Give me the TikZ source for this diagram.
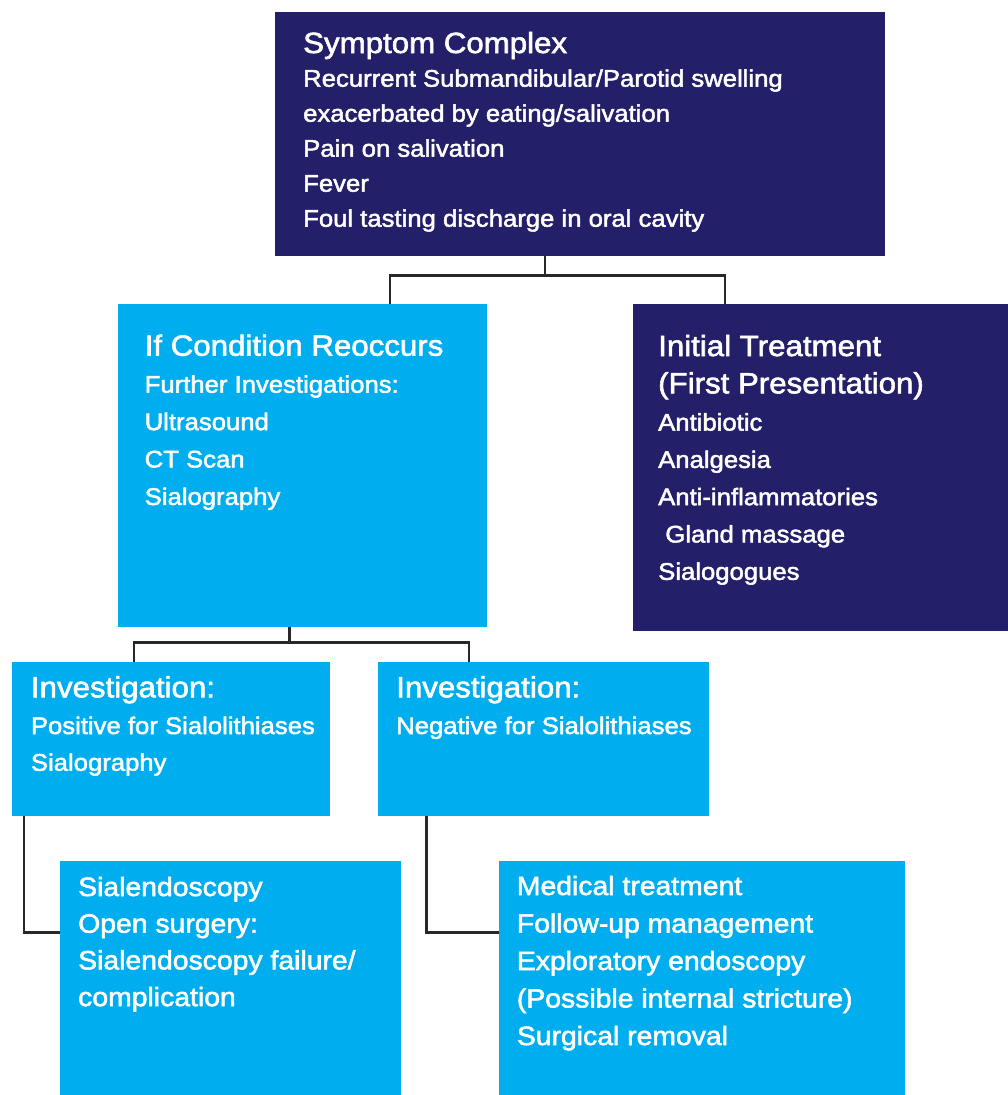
\documentclass[tikz,border=0pt]{standalone}
\usepackage{fontspec}
\newfontfamily\diagfont{Liberation Sans}[FakeStretch=1.07,FakeBold=2]
\usetikzlibrary{positioning}
\definecolor{navyblue}{RGB}{35,31,104}
\definecolor{skyblue}{RGB}{0,174,239}
\definecolor{linkgray}{RGB}{40,40,40}
\newcommand\txtsize[2]{\fontsize{#1}{#2}\selectfont}

\begin{document}
\begin{tikzpicture}[x=1pt,y=-1pt,
    darkbox/.style={fill=navyblue,inner sep=0pt,anchor=north west},
    lightbox/.style={fill=skyblue,inner sep=0pt,anchor=north west},
    boxtext/.style={anchor=base west,inner sep=0pt,align=left,text=white},
    link/.style={draw=linkgray,line width=2.4pt}
]
\useasboundingbox (0,0) rectangle (1008,1095);
\node[darkbox,minimum width=610pt,minimum height=243.5pt] (symp) at (275,12) {};
\node[lightbox,minimum width=369pt,minimum height=322.5pt] (reoc) at (118,304) {};
\node[darkbox,minimum width=375pt,minimum height=327pt] (init) at (633,304) {};
\node[lightbox,minimum width=318pt,minimum height=153.5pt] (pos) at (12,662) {};
\node[lightbox,minimum width=331pt,minimum height=153.5pt] (neg) at (378,662) {};
\node[lightbox,minimum width=341pt,minimum height=234pt] (endo) at (60,861) {};
\node[lightbox,minimum width=406pt,minimum height=234pt] (med) at (499,861) {};

% text nodes sit on the baseline of their last line
\node[boxtext,font=\diagfont\txtsize{24}{35}] (symp-t) at ([shift={(28,214.7)}]symp.north west)
  {{\txtsize{29.2}{35}Symptom Complex}\\[-1.3pt]
   Recurrent Submandibular/Parotid swelling\\
   exacerbated by eating/salivation\\
   Pain on salivation\\
   Fever\\
   Foul tasting discharge in oral cavity};
\node[boxtext,font=\diagfont\txtsize{24}{37.4}] (reoc-t) at ([shift={(26.5,200.9)}]reoc.north west)
  {{\txtsize{29.2}{37.4}If Condition Reoccurs}\\[-0.4pt]
   Further Investigations:\\
   Ultrasound\\
   CT Scan\\
   Sialography};
\node[boxtext,font=\diagfont\txtsize{24}{37.3}] (init-t) at ([shift={(25,275.8)}]init.north west)
  {{\txtsize{29.2}{37.3}Initial Treatment}\\
   {\txtsize{29.2}{37.3}(First Presentation)}\\
   Antibiotic\\
   Analgesia\\
   Anti-inflammatories\\
   ~Gland massage\\
   Sialogogues};
\node[boxtext,font=\diagfont\txtsize{24}{36.7}] (pos-t) at ([shift={(18.7,108.7)}]pos.north west)
  {{\txtsize{29.2}{36.7}Investigation:}\\
   Positive for Sialolithiases\\
   Sialography};
\node[boxtext,font=\diagfont\txtsize{24}{36.7}] (neg-t) at ([shift={(18,72)}]neg.north west)
  {{\txtsize{29.2}{36.7}Investigation:}\\
   Negative for Sialolithiases};
\node[boxtext,font=\diagfont\txtsize{26.5}{36.7}] (endo-t) at ([shift={(18,145.1)}]endo.north west)
  {Sialendoscopy\\
   Open surgery:\\
   Sialendoscopy failure/\\
   complication};
\node[boxtext,font=\diagfont\txtsize{26.5}{37.5}] (med-t) at ([shift={(17.7,184)}]med.north west)
  {Medical treatment\\
   Follow-up management\\
   Exploratory endoscopy\\
   (Possible internal stricture)\\
   Surgical removal};

\coordinate (jA) at (545,275.5);
\coordinate (jB) at (390,275.5);
\coordinate (jC) at (725,275.5);
\draw[link] (symp.south -| jA) -- (jA);
\draw[link] (reoc.north -| jB) -- (jB) -- (jC) -- (init.north -| jC);
\coordinate (kA) at (289.5,642.3);
\coordinate (kB) at (134,642.3);
\coordinate (kC) at (469,642.3);
\draw[link] (reoc.south -| kA) -- (kA);
\draw[link] (pos.north -| kB) -- (kB) -- (kC) -- (neg.north -| kC);
\coordinate (lA) at (24,932.3);
\draw[link] (pos.south -| lA) -- (lA) -- (endo.west |- lA);
\coordinate (mA) at (426.5,932.3);
\draw[link] (neg.south -| mA) -- (mA) -- (med.west |- mA);
\end{tikzpicture}
\end{document}
